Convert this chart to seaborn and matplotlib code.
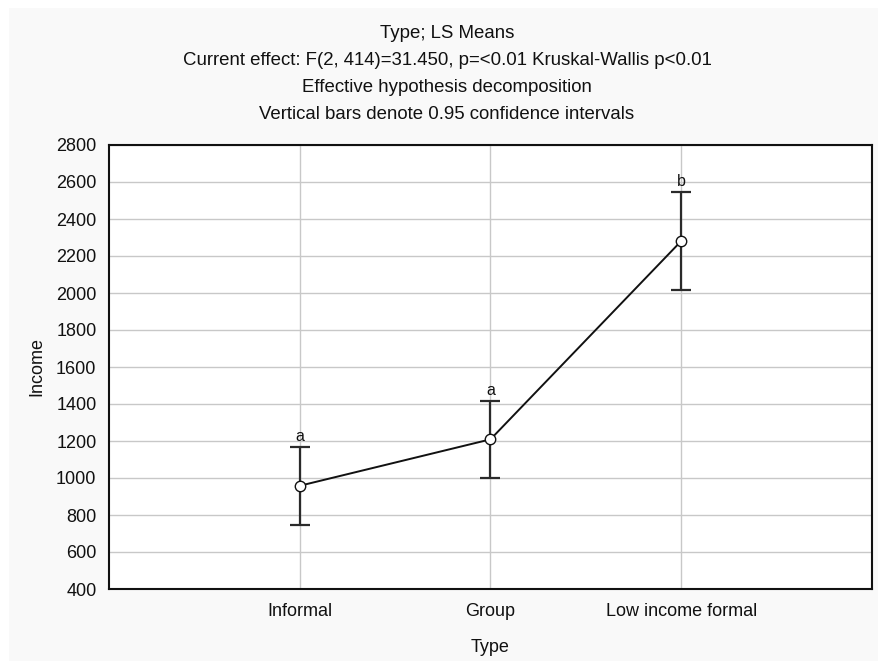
import matplotlib
matplotlib.use("Agg")
import matplotlib.pyplot as plt
from matplotlib.patches import Rectangle
import seaborn as sns
import pandas as pd

# LS means of income by type, with 0.95 confidence limits
types = ["Informal", "Group", "Low income formal"]
means = [958, 1209, 2281]
ci_low = [747, 1002, 2016]
ci_high = [1169, 1416, 2548]
letters = ["a", "a", "b"]
yticks = list(range(400, 2801, 200))

title_lines = [
    "Type; LS Means",
    "Current effect: F(2, 414)=31.450, p=<0.01 Kruskal-Wallis p<0.01",
    "Effective hypothesis decomposition",
    "Vertical bars denote 0.95 confidence intervals",
]

sns.set_theme(style="white")
plt.rcParams["font.family"] = ["Liberation Sans", "DejaVu Sans"]

W, H = 879, 661
FS = 13
fig = plt.figure(figsize=(W / 100, H / 100), dpi=100)
fig.patch.set_facecolor("white")
fig.add_artist(Rectangle((9 / W, 0), 1 - 9 / W, 1 - 8 / H,
                         transform=fig.transFigure, facecolor="#f9f9f9",
                         edgecolor="none", zorder=-10))

ax = fig.add_axes([109 / W, 1 - 589 / H, (872 - 109) / W, (589 - 145) / H])
ax.set_facecolor("white")

df = pd.DataFrame({"Type": types, "Income": means})
x = list(range(len(types)))

ax.errorbar(x, means,
            yerr=[[m - lo for m, lo in zip(means, ci_low)],
                  [hi - m for m, hi in zip(means, ci_high)]],
            fmt="none", ecolor="#2a2a2a", elinewidth=1.6, capsize=7,
            capthick=1.6, zorder=3)
sns.lineplot(data=df, x="Type", y="Income", ax=ax, sort=False,
             color="#111111", linewidth=1.4, marker="o", markersize=7.5,
             markerfacecolor="white", markeredgecolor="#111111",
             markeredgewidth=1.0, zorder=4)

for xi, hi, lab in zip(x, ci_high, letters):
    ax.annotate(lab, (xi, hi), xytext=(0, 2), textcoords="offset points",
                ha="center", va="bottom", fontsize=11.5, color="#111111")

ax.set_xlim(-1, 3)
ax.set_ylim(400, 2800)
ax.set_xticks(x)
ax.set_xticklabels(types)
ax.set_yticks(yticks)
ax.grid(True, color="#c8c8c8", linewidth=1.0)
ax.set_axisbelow(True)
for s in ax.spines.values():
    s.set_color("#111111")
    s.set_linewidth(1.5)

ax.tick_params(axis="x", direction="in", length=4, width=1, color="#333333",
               labelsize=FS, pad=10, labelcolor="#111111")
ax.tick_params(axis="y", direction="out", length=4, width=1, color="#333333",
               labelsize=FS, pad=5, labelcolor="#111111")
ax.set_xlabel("Type", fontsize=FS, color="#111111", labelpad=14)
ax.set_ylabel("Income", fontsize=FS, color="#111111", labelpad=8)

for i, line in enumerate(title_lines):
    fig.text(447 / W, 1 - (33 + 27.3 * i) / H, line, ha="center", va="center",
             fontsize=13.4, color="#111111")

fig.savefig("out.png", dpi=100, facecolor=fig.get_facecolor())
